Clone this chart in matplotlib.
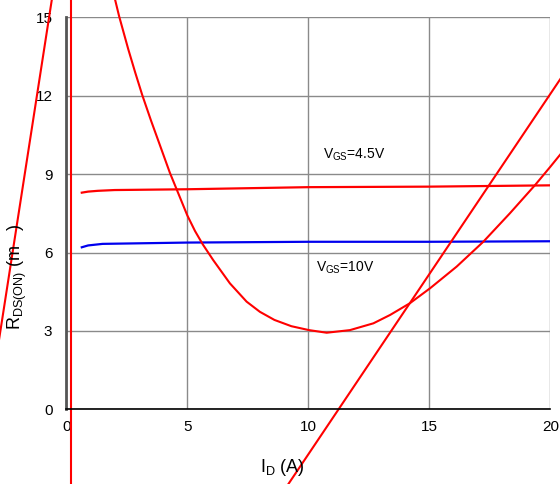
import matplotlib
matplotlib.use("Agg")
import matplotlib.pyplot as plt

plt.rcParams['font.family'] = ['Liberation Sans', 'DejaVu Sans']

# measured R_DS(ON) curves
id_45 = [0.64, 0.9, 1.3, 2.0, 5.0, 10.0, 15.0, 20.0]
r_45 = [8.29, 8.33, 8.36, 8.39, 8.42, 8.50, 8.52, 8.57]
id_10 = [0.64, 0.9, 1.5, 5.0, 10.0, 15.0, 20.0]
r_10 = [6.20, 6.27, 6.33, 6.38, 6.41, 6.41, 6.43]

# stray red overlay lines
curve_x = [1.9, 2.02, 2.18, 2.56, 2.85, 3.14, 3.5, 3.84, 4.28, 4.70, 5.0, 5.32, 5.64, 6.07,
           6.76, 7.45, 8.0, 8.6, 9.3, 10.03, 10.76, 11.72, 12.69, 13.38, 14.20, 15.03,
           16.13, 17.23, 18.33, 19.37, 20.0, 20.5]
curve_y = [16.15, 15.66, 15.05, 13.78, 12.88, 12.02, 11.05, 10.18, 9.05, 8.1, 7.42, 6.82, 6.31, 5.71,
           4.82, 4.12, 3.73, 3.42, 3.18, 3.03, 2.93, 3.03, 3.29, 3.61, 4.06, 4.63,
           5.46, 6.41, 7.50, 8.58, 9.28, 9.85]
diag_x = [8.93, 21.04]
diag_y = [-3.2, 13.5]
steep_x = [-3.31, -0.46]
steep_y = [-0.5, 16.5]
vert_x = [0.18, 0.18]
vert_y = [-3.5, 16.5]

xticks = [0, 5, 10, 15, 20]
yticks = [0, 3, 6, 9, 12, 15]

fig = plt.figure(figsize=(5.6, 4.84), dpi=100)
ax = fig.add_axes([66.3 / 560, 1 - 409.3 / 484, 484 / 560, 392 / 484])
ax.set_xlim(0, 20)
ax.set_ylim(0, 15)
ax.set_xticks(xticks)
ax.set_yticks(yticks)
ax.grid(True, color='#8a8a8a', lw=1.0)
ax.set_axisbelow(True)
for s in ['top', 'right']:
    ax.spines[s].set_visible(False)
ax.spines['left'].set_color('#555555')
ax.spines['left'].set_linewidth(2.0)
ax.spines['bottom'].set_color('black')
ax.spines['bottom'].set_linewidth(1.2)
ax.tick_params(length=0, labelsize=11, pad=8)
ax.tick_params(axis='y', pad=10)

ax.plot(id_45, r_45, color='#ff0000', lw=1.6)
ax.plot(id_10, r_10, color='#0000ee', lw=1.6)

ax.plot(curve_x, curve_y, color='#ff0000', lw=1.5, clip_on=False)
ax.plot(diag_x, diag_y, color='#ff0000', lw=1.5, clip_on=False)
ax.plot(steep_x, steep_y, color='#ff0000', lw=1.5, clip_on=False)
ax.plot(vert_x, vert_y, color='#ff0000', lw=1.5, clip_on=False)

ax.text(10.6, 9.75, r'V$_{\mathregular{GS}}$=4.5V', fontsize=10, va='center', ha='left')
ax.text(10.3, 5.4, r'V$_{\mathregular{GS}}$=10V', fontsize=10, va='center', ha='left')

fig.text(282 / 560, 1 - 468 / 484, r'I$_{\mathregular{D}}$ (A)', fontsize=13, ha='center', va='center')
fig.text(17 / 560, 1 - 277 / 484, r'R$_{\mathregular{DS(ON)}}$ (m   )', fontsize=13,
         ha='center', va='center', rotation=90)

fig.savefig('out.png', dpi=100)
